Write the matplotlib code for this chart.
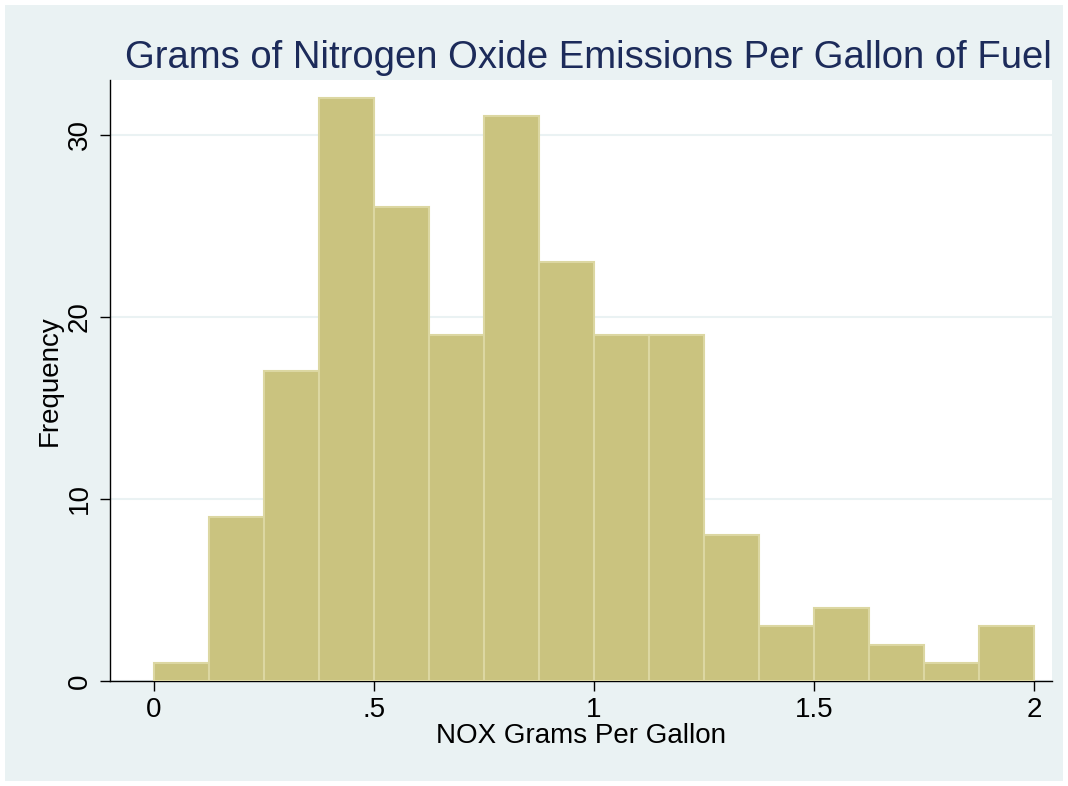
import numpy as np
import matplotlib.pyplot as plt
from matplotlib.patches import Rectangle

# histogram bins (width .125) and counts
bin_edges = [0, .125, .25, .375, .5, .625, .75, .875, 1, 1.125, 1.25, 1.375, 1.5, 1.625, 1.75, 1.875, 2]
counts = [1, 9, 17, 32, 26, 19, 31, 23, 19, 19, 8, 3, 4, 2, 1, 3]
xticks = [0, .5, 1, 1.5, 2]
xtick_labels = ["0", ".5", "1", "1.5", "2"]
yticks = [0, 10, 20, 30]

plt.rcParams['font.family'] = ['Liberation Sans', 'DejaVu Sans']

W, H = 1068, 786
fig = plt.figure(figsize=(W / 100, H / 100), dpi=100, facecolor='white')
fig.patches.append(Rectangle((5 / W, 5 / H), (W - 10) / W, (H - 10) / H,
                             transform=fig.transFigure, facecolor='#EAF2F3',
                             edgecolor='none', zorder=-10))

ax = fig.add_axes([110 / W, 1 - 681 / H, (1052 - 110) / W, (681 - 80) / H])
ax.set_facecolor('white')

lefts = np.array(bin_edges[:-1])
widths = np.diff(bin_edges)
ax.bar(lefts, counts, width=widths, align='edge', color='#CAC37F',
       edgecolor='#DCD7A2', linewidth=1.5, zorder=3)

ax.set_xlim(-0.1, 2.041)
ax.set_ylim(0, 33.0)
ax.set_xticks(xticks)
ax.set_xticklabels(xtick_labels)
ax.set_yticks(yticks)
ax.set_yticklabels([str(v) for v in yticks], rotation=90, va='center')
ax.grid(axis='y', color='#EAF2F3', linewidth=1.5, zorder=0)
ax.tick_params(axis='both', direction='out', length=7.5, width=1, labelsize=20, colors='black')
ax.tick_params(axis='x', pad=4)
ax.tick_params(axis='y', pad=5)
for s in ['top', 'right']:
    ax.spines[s].set_visible(False)
for s in ['left', 'bottom']:
    ax.spines[s].set_color('black')
    ax.spines[s].set_linewidth(1)

ax.set_xlabel("NOX Grams Per Gallon", fontsize=20, labelpad=0)
ax.set_ylabel("Frequency", fontsize=20, labelpad=3)

fig.text(1052 / W, 1 - 68 / H, "Grams of Nitrogen Oxide Emissions Per Gallon of Fuel",
         ha='right', va='baseline', fontsize=27.5, color='#1C2B5A')

fig.savefig('out.png', dpi=100, facecolor=fig.get_facecolor())
